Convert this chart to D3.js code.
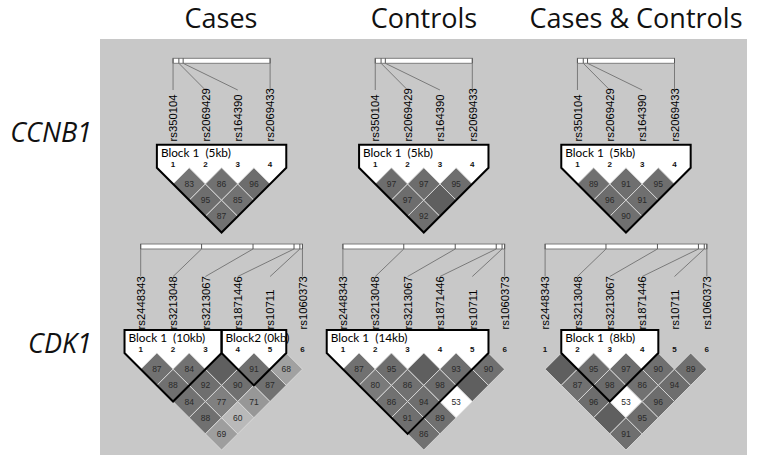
<!DOCTYPE html>
<html><head><meta charset="utf-8">
<script src="https://cdn.jsdelivr.net/npm/d3@7"></script>
<style>body{margin:0;background:#fff}svg{display:block}</style>
</head><body>
<svg id="c" width="757" height="464"></svg>
<script>
// ---------- data ----------
const datasets = ["Cases", "Controls", "Cases & Controls"];
const genes = ["CCNB1", "CDK1"];

const ccnb1Markers = ["rs350104", "rs2069429", "rs164390", "rs2069433"];
const ccnb1PosKb = [0, 0.30, 0.52, 5.0];
const cdk1Markers = ["rs2448343", "rs3213048", "rs3213067", "rs1871446", "rs10711", "rs1060373"];
const cdk1PosKb = [0, 5.42, 10.0, 13.65, 14.17, 14.4];

// D' (x100), upper triangle: row i lists pairs (i, j>i); null = 100 (no number shown)
const ccnb1Cases    = [[83, 95, 87], [86, 85], [96]];
const ccnb1Controls = [[97, 97, 92], [97, null], [95]];
const ccnb1All      = [[89, 96, 90], [91, 91], [95]];

const cdk1Cases    = [[87, 88, 84, 88, 69], [84, 92, 77, 60], [null, 90, 71], [91, 87], [68]];
const cdk1Controls = [[87, 80, 86, 91, 86], [95, 86, 94, 89], [null, 98, 53], [93, null], [90]];
const cdk1All      = [[null, 87, 96, null, 91], [95, 98, 53, 95], [97, 86, 96], [90, 94], [89]];

const ccnb1Blocks = [
  [{label: "Block 1  (5kb)", from: 0, to: 3}],
  [{label: "Block 1  (5kb)", from: 0, to: 3}],
  [{label: "Block 1  (5kb)", from: 0, to: 3}]
];
const cdk1Blocks = [
  [{label: "Block 1  (10kb)", from: 0, to: 2}, {label: "Block2 (0kb)", from: 3, to: 4}],
  [{label: "Block 1  (14kb)", from: 0, to: 4}],
  [{label: "Block 1  (8kb)", from: 1, to: 3}]
];

// ---------- drawing ----------
const svg = d3.select("#c");
svg.append("rect").attr("x", 100).attr("y", 39).attr("width", 647).attr("height", 416).attr("fill", "#c8c8c8");

const titleX = [221, 424, 636];
datasets.forEach((t, p) => {
  svg.append("text").attr("x", titleX[p]).attr("y", 28).attr("text-anchor", "middle")
    .attr("font-family", "'Open Sans', sans-serif").attr("font-size", 27).attr("fill", "#111").text(t);
});
const geneY = [142, 353];
genes.forEach((g, r) => {
  svg.append("text").attr("x", 92).attr("y", geneY[r]).attr("text-anchor", "end")
    .attr("font-family", "'Open Sans', sans-serif").attr("font-style", "italic")
    .attr("font-size", 27).attr("fill", "#111").text(g);
});

const D = 32.35;
const panelX0 = [140.7, 342.9, 545.1];
const rows = [
  {markers: ccnb1Markers, pos: ccnb1PosKb, ld: [ccnb1Cases, ccnb1Controls, ccnb1All], blocks: ccnb1Blocks,
   offset: 1, barTop: 58.3, lineEnd: 90, labelBottom: 141.5, blockTop: 144.8, y0: 167.8},
  {markers: cdk1Markers, pos: cdk1PosKb, ld: [cdk1Cases, cdk1Controls, cdk1All], blocks: cdk1Blocks,
   offset: 0, barTop: 244, lineEnd: 276.5, labelBottom: 329.5, blockTop: 330, y0: 353}
];

const shade = d3.scaleLinear()
  .domain([60, 68, 71, 77, 84, 99, 100])
  .range(["#b9b9b9", "#a1a1a1", "#979797", "#808080", "#727272", "#6c6c6c", "#5f5f5f"])
  .clamp(true);
const fillFor = v => (v === null ? shade(100) : (v < 55 ? "#ffffff" : shade(v)));

rows.forEach(row => {
  const n = row.markers.length;
  row.ld.forEach((ld, p) => {
    const x = d3.scaleLinear().domain([0, 5]).range([panelX0[p], panelX0[p] + 5 * D]);
    const mx = i => x(i + row.offset);
    const phys = d3.scaleLinear().domain([0, d3.max(row.pos)]).range([mx(0), mx(n - 1)]);
    const g = svg.append("g");
    const barH = 5, barBot = row.barTop + barH;

    // gene bar
    g.append("rect").attr("x", phys(0)).attr("y", row.barTop).attr("width", phys(d3.max(row.pos)) - phys(0))
      .attr("height", barH).attr("fill", "#fff").attr("stroke", "#7d7d7d").attr("stroke-width", 1);
    row.pos.forEach(v => {
      g.append("line").attr("x1", phys(v)).attr("x2", phys(v)).attr("y1", row.barTop).attr("y2", barBot)
        .attr("stroke", "#555").attr("stroke-width", 1);
    });
    // connector lines
    row.pos.forEach((v, i) => {
      g.append("line").attr("x1", phys(v)).attr("y1", barBot).attr("x2", mx(i)).attr("y2", row.lineEnd)
        .attr("stroke", "#7a7a7a").attr("stroke-width", 1);
    });
    // marker labels
    row.markers.forEach((m, i) => {
      g.append("text").attr("transform", `translate(${mx(i) + 4.2},${row.labelBottom}) rotate(-90)`)
        .attr("font-family", "'Liberation Sans', Arial, sans-serif").attr("font-size", 11.3)
        .attr("fill", "#000").text(m);
    });

    const blocks = row.blocks[p];
    const blockPoly = b => {
      const xf = mx(b.from), xl = mx(b.to);
      const L = xf - D / 2, R = xl + D / 2;
      const ax = (xf + xl) / 2, ay = row.y0 + (xl - xf) / 2 + D / 2;
      return [[L, row.blockTop], [R, row.blockTop], [R, row.y0], [ax, ay], [L, row.y0]];
    };
    // block white fill
    blocks.forEach(b => {
      g.append("polygon").attr("points", blockPoly(b).map(d => d.join(",")).join(" "))
        .attr("fill", "#fff").attr("stroke", "none");
    });

    // diamonds
    const cells = [];
    ld.forEach((r, i) => r.forEach((v, k) => cells.push({i, j: i + 1 + k, v})));
    cells.forEach(c => {
      const cx = (mx(c.i) + mx(c.j)) / 2, cy = row.y0 + (c.j - c.i) * D / 2;
      const h = D / 2;
      g.append("polygon")
        .attr("points", [[cx, cy - h], [cx + h, cy], [cx, cy + h], [cx - h, cy]].map(d => d.join(",")).join(" "))
        .attr("fill", fillFor(c.v)).attr("stroke", "#dadada").attr("stroke-width", 0.9);
      if (c.v !== null) {
        g.append("text").attr("x", cx).attr("y", cy + 3).attr("text-anchor", "middle")
          .attr("font-family", "'Liberation Sans', Arial, sans-serif").attr("font-size", 8.5)
          .attr("fill", "#2a2a2a").text(c.v);
      }
    });

    // block outlines
    blocks.forEach(b => {
      g.append("polygon").attr("points", blockPoly(b).map(d => d.join(",")).join(" "))
        .attr("fill", "none").attr("stroke", "#000").attr("stroke-width", 2).attr("stroke-linejoin", "miter");
      g.append("text").attr("x", mx(b.from) - D / 2 + 4).attr("y", row.blockTop + 12)
        .attr("font-family", "Lato, sans-serif").attr("font-size", 11.8).attr("fill", "#000")
        .style("white-space", "pre").text(b.label);
    });
    // marker numbers
    row.markers.forEach((m, i) => {
      g.append("text").attr("x", mx(i)).attr("y", row.y0 - 0.8).attr("text-anchor", "middle")
        .attr("font-family", "'Liberation Sans', Arial, sans-serif").attr("font-size", 8)
        .attr("font-weight", "bold").attr("fill", "#111").text(i + 1);
    });
  });
});
</script>
</body></html>
